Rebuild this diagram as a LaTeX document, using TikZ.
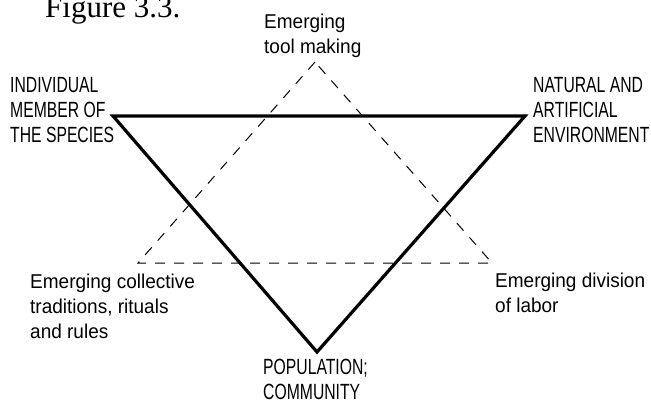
\documentclass[tikz,border=0pt]{standalone}
\usepackage{fontspec}
\setmainfont{Liberation Sans}
\newfontfamily\capsfont{Liberation Sans}[FakeStretch=0.715]
\newfontfamily\lowfont{Liberation Sans}[FakeStretch=0.95]
\newfontfamily\figfont{Liberation Serif}
\begin{document}
\begin{tikzpicture}[x=1pt,y=-1pt,
  solidline/.style={line width=3.2pt,line join=miter},
  dashline/.style={line width=1pt,dash pattern=on 10pt off 9pt},
  caplabel/.style={inner sep=0pt,anchor=base west,align=left,font=\capsfont\fontsize{22}{25}\selectfont},
  lowlabel/.style={inner sep=0pt,anchor=base west,align=left,font=\lowfont\fontsize{20}{25}\selectfont}]
\useasboundingbox[fill=white] (0,0) rectangle (651,402);
% solid triangle
\coordinate (ind) at (113,116);
\coordinate (nat) at (525,116);
\coordinate (pop) at (317,352);
% dashed triangle
\coordinate (tool) at (315,62);
\coordinate (coll) at (138,263);
\coordinate (div) at (492,263);
\draw[dashline] (tool) -- (coll) -- (div) -- cycle;
\draw[solidline] (ind) -- (nat) -- (pop) -- cycle;
\node[inner sep=0pt,anchor=base west,font=\figfont\fontsize{31}{31}\selectfont] (fig) at (45,17) {Figure 3.3.};
% anchors are at the baseline of the last line
\node[lowlabel] (ltool) at (264,53) {Emerging\\tool making};
\node[caplabel] (lind) at (10,142) {INDIVIDUAL\\MEMBER OF\\THE SPECIES};
\node[caplabel] (lnat) at (533,142) {NATURAL AND\\ARTIFICIAL\\ENVIRONMENT};
\node[lowlabel] (lcoll) at (30,338) {Emerging collective\\traditions, rituals\\and rules};
\node[lowlabel] (ldiv) at (495,312) {Emerging division\\of labor};
\node[caplabel] (lpop) at (263,399) {POPULATION;\\COMMUNITY};
\end{tikzpicture}
\end{document}
